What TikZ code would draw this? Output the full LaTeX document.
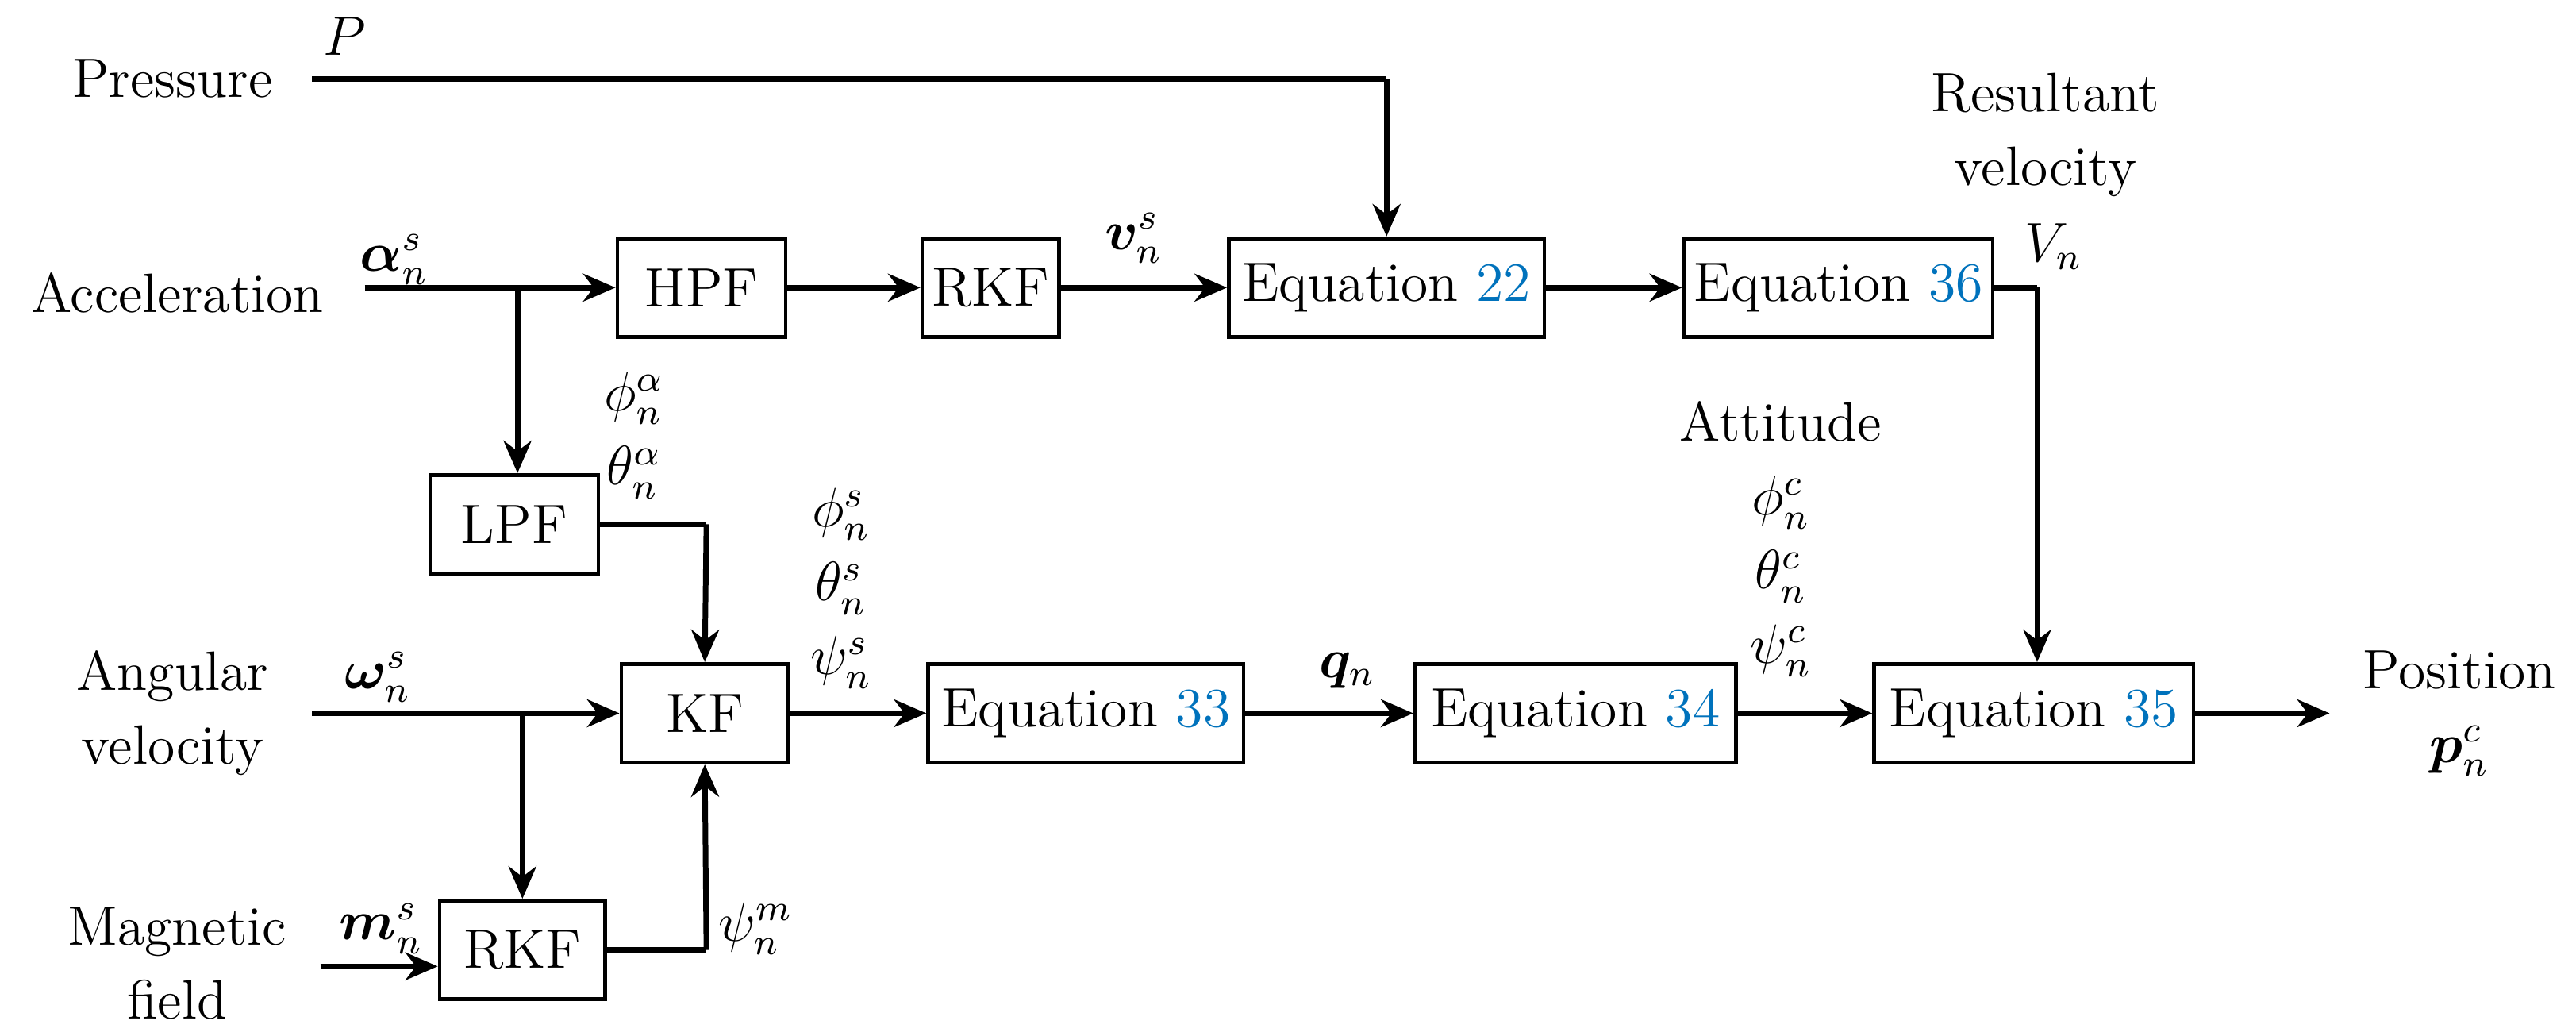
\documentclass[tikz,border=0pt]{standalone}
\usepackage{amsmath,bm}
\usetikzlibrary{arrows.meta}
\definecolor{refblue}{RGB}{0,114,188}
\begin{document}
\begin{tikzpicture}[x=0.0125cm,y=-0.0125cm,font=\fontsize{12}{14}\selectfont,
 box/.style={draw,line width=0.8pt,minimum height=0.75cm,inner sep=0pt},
 con/.style={line width=1.2pt,-{Stealth[length=7pt,width=6pt]}},
 ln/.style={line width=1.2pt},
 lab/.style={inner sep=0pt}]
\useasboundingbox (0,0) rectangle (1568,630);
\newcommand{\eqn}[1]{Equation \textcolor{refblue}{#1}}
\node[box,minimum width=1.28cm] (hpf) at (427,175) {HPF};
\node[box,minimum width=1.04cm] (rkf1) at (603,175) {RKF};
\node[box,minimum width=2.4cm] (e22) at (844,175) {\eqn{22}};
\node[box,minimum width=2.35cm] (e36) at (1119,175) {\eqn{36}};
\node[box,minimum width=1.28cm] (lpf) at (313,319) {LPF};
\node[box,minimum width=1.27cm] (kf) at (429,434) {KF};
\node[box,minimum width=2.4cm] (e33) at (661,434) {\eqn{33}};
\node[box,minimum width=2.44cm] (e34) at (959,434) {\eqn{34}};
\node[box,minimum width=2.43cm] (e35) at (1238,434) {\eqn{35}};
\node[box,minimum width=1.26cm] (rkf2) at (318,578) {RKF};
% inputs
\node[lab] (pres) at (105,48) {Pressure};
\node[lab] at (210,22) {$P$};
\coordinate (ps) at (190,48);
\coordinate (pc) at (844,48);
\draw[ln] (ps) -- (pc);
\draw[con] (pc) -- (e22.north);
\node[lab] (acc) at (108,178) {Acceleration};
\node[lab] at (240,158) {$\bm{\alpha}_n^s$};
\coordinate (as) at (222,175);
\coordinate (ab) at (315,175);
\draw[con] (as) -- (hpf.west);
\draw[con] (ab) -- (ab|-lpf.north);
\node[lab,align=center] (ang) at (105,434) {Angular\\[2pt]velocity};
\node[lab] at (230,412) {$\bm{\omega}_n^s$};
\coordinate (ws) at (190,434);
\coordinate (wb) at (318,434);
\draw[con] (ws) -- (kf.west);
\draw[con] (wb) -- (wb|-rkf2.north);
\node[lab,align=center] (mag) at (108,586) {Magnetic\\[2pt]field};
\node[lab] at (232,565) {$\bm{m}_n^s$};
\coordinate (ms) at (195,588);
\draw[con] (ms) -- (ms-|rkf2.west);
% LPF to KF
\coordinate (lk) at (430,319);
\draw[ln] (lpf.east) -- (lk);
\draw[con] (lk) -- (kf.north);
\node[lab,align=center] at (386,265) {$\phi_n^\alpha$\\[2pt]$\theta_n^\alpha$};
\coordinate (rk) at (430,578);
\draw[ln] (rkf2.east) -- (rk);
\draw[con] (rk) -- (kf.south);
\node[lab] at (460,565) {$\psi_n^m$};
% chain
\draw[con] (hpf) -- (rkf1);
\draw[con] (rkf1) -- (e22);
\node[lab] at (690,145) {$\bm{v}_n^s$};
\draw[con] (e22) -- (e36);
\coordinate (vc) at (1240,175);
\draw[ln] (e36.east) -- (vc);
\draw[con] (vc) -- (vc|-e35.north);
\node[lab,align=center] at (1245,82) {Resultant\\[2pt]velocity};
\node[lab] at (1250,150) {$V_n$};
\draw[con] (kf) -- (e33);
\node[lab,align=center] at (512,358) {$\phi_n^s$\\[2pt]$\theta_n^s$\\[2pt]$\psi_n^s$};
\draw[con] (e33) -- (e34);
\node[lab] at (820,408) {$\bm{q}_n$};
\draw[con] (e34) -- (e35);
\node[lab,align=center] at (1084,328) {Attitude\\[2pt]$\phi_n^c$\\[2pt]$\theta_n^c$\\[2pt]$\psi_n^c$};
\coordinate (out) at (1418,434);
\draw[con] (e35.east) -- (out);
\node[lab,align=center] at (1497,434) {Position\\[2pt]$\bm{p}_n^c$};
\end{tikzpicture}
\end{document}
